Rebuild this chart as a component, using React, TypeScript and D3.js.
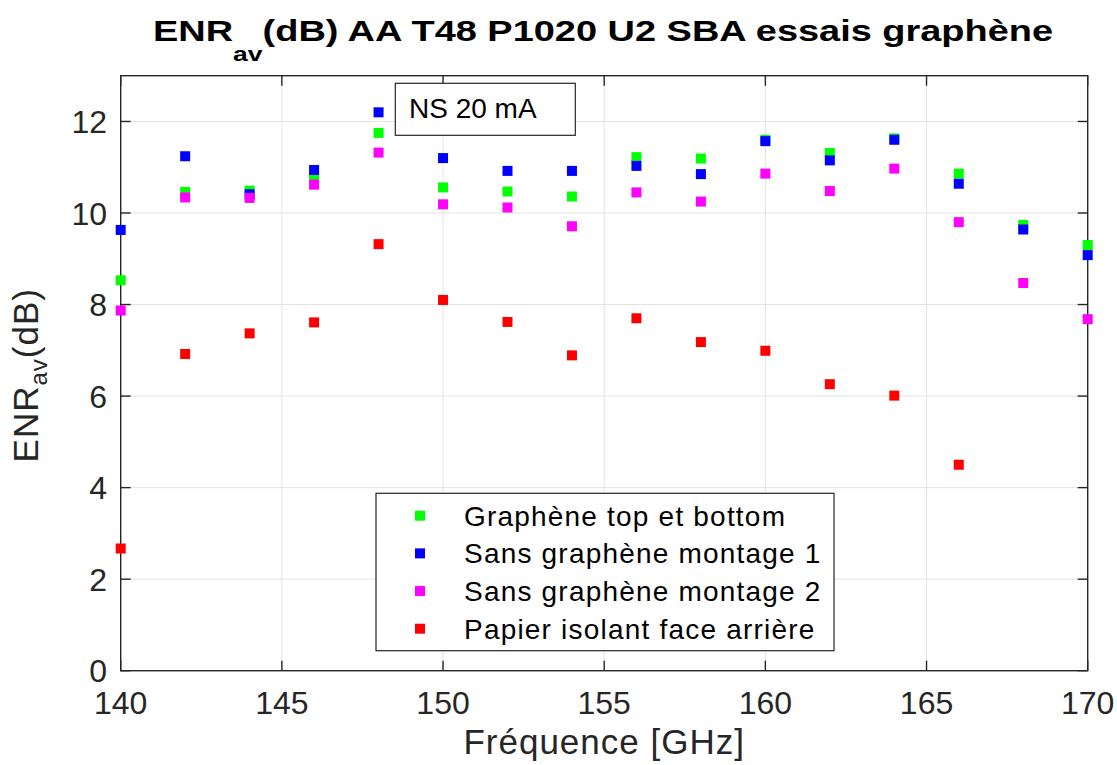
import React from "react";
import * as d3 from "d3";

const freqs = [140, 142, 144, 146, 148, 150, 152, 154, 156, 158, 160, 162, 164, 166, 168, 170];
const grapheneTopBottom = [8.53, 10.46, 10.49, 10.78, 11.75, 10.56, 10.47, 10.36, 11.22, 11.19, 11.6, 11.31, 11.63, 10.86, 9.74, 9.30];
const sansGrapheneM1 = [9.63, 11.24, 10.41, 10.94, 12.2, 11.2, 10.92, 10.92, 11.03, 10.85, 11.57, 11.15, 11.6, 10.64, 9.64, 9.08];
const sansGrapheneM2 = [7.87, 10.34, 10.33, 10.62, 11.32, 10.19, 10.12, 9.71, 10.45, 10.25, 10.86, 10.48, 10.97, 9.80, 8.47, 7.68];
const papierIsolant = [2.67, 6.92, 7.37, 7.61, 9.32, 8.10, 7.62, 6.89, 7.70, 7.18, 6.99, 6.26, 6.01, 4.50];

const seriesNames = [
  "Graphène top et bottom",
  "Sans graphène montage 1",
  "Sans graphène montage 2",
  "Papier isolant face arrière",
];
const seriesColors = ["#00ff00", "#0000ff", "#ff00ff", "#ff0000"];
const seriesValues = [grapheneTopBottom, sansGrapheneM1, sansGrapheneM2, papierIsolant];

const xTicks = [140, 145, 150, 155, 160, 165, 170];
const yTicks = [0, 2, 4, 6, 8, 10, 12];

const FONT = "'Liberation Sans', Arial, Helvetica, sans-serif";

export default function App() {
  const W = 1117, H = 765;
  const left = 120.7, right = 1087.7, top = 75.7, bottom = 670.7;
  const x = d3.scaleLinear().domain([140, 170]).range([left, right]);
  const y = d3.scaleLinear().domain([0, 13]).range([bottom, top]);
  const ms = 10;
  const axisColor = "#262626";
  const tickLen = 10;

  const legX = 376, legY = 493.3, legW = 458, legH = 157.4;
  const rowH = 37.67;

  return (
    <svg width={W} height={H} style={{ position: "absolute", left: 0, top: 0, background: "#fff" }} fontFamily={FONT}>
      <rect x={0} y={0} width={W} height={H} fill="#fff" />
      {/* grid */}
      {xTicks.map((t) => (
        <line key={"gx" + t} x1={x(t)} x2={x(t)} y1={top} y2={bottom} stroke="#e3e3e3" strokeWidth={1} />
      ))}
      {yTicks.map((t) => (
        <line key={"gy" + t} x1={left} x2={right} y1={y(t)} y2={y(t)} stroke="#e3e3e3" strokeWidth={1} />
      ))}
      {/* axes box */}
      <rect x={left} y={top} width={right - left} height={bottom - top} fill="none" stroke={axisColor} strokeWidth={1.4} />
      {xTicks.map((t) => (
        <g key={"tx" + t}>
          <line x1={x(t)} x2={x(t)} y1={bottom} y2={bottom - tickLen} stroke={axisColor} strokeWidth={1.4} />
          <line x1={x(t)} x2={x(t)} y1={top} y2={top + tickLen} stroke={axisColor} strokeWidth={1.4} />
          <text x={x(t)} y={714} textAnchor="middle" fontSize={32} fill={axisColor}>{t}</text>
        </g>
      ))}
      {yTicks.map((t) => (
        <g key={"ty" + t}>
          <line x1={left} x2={left + tickLen} y1={y(t)} y2={y(t)} stroke={axisColor} strokeWidth={1.4} />
          <line x1={right} x2={right - tickLen} y1={y(t)} y2={y(t)} stroke={axisColor} strokeWidth={1.4} />
          <text x={107} y={y(t) + 11.5} textAnchor="end" fontSize={32} fill={axisColor}>{t}</text>
        </g>
      ))}
      {/* data */}
      {seriesValues.map((vals, si) => (
        <g key={"s" + si}>
          {vals.map((v, i) => (
            <rect key={i} x={x(freqs[i]) - ms / 2} y={y(v) - ms / 2} width={ms} height={ms} fill={seriesColors[si]} />
          ))}
        </g>
      ))}
      {/* NS box */}
      <rect x={395.3} y={83.3} width={180} height={52} fill="#fff" stroke={axisColor} strokeWidth={1.2} />
      <text x={409} y={117.7} fontSize={28} fill="#000">NS 20 mA</text>
      {/* legend */}
      <rect x={legX} y={legY} width={legW} height={legH} fill="#fff" stroke={axisColor} strokeWidth={1.2} />
      {seriesNames.map((n, i) => {
        const cy = 515.7 + i * rowH;
        return (
          <g key={"l" + i}>
            <rect x={420 - ms / 2} y={cy - ms / 2} width={ms} height={ms} fill={seriesColors[i]} />
            <text x={464} y={cy + 10} fontSize={28} letterSpacing={1.2} fill="#000">{n}</text>
          </g>
        );
      })}
      {/* x label */}
      <text x={(left + right) / 2} y={754} textAnchor="middle" fontSize={35} letterSpacing={1} fill={axisColor}>Fréquence [GHz]</text>
      {/* y label */}
      <text transform={`translate(38.3, ${(top + bottom) / 2 + 2}) rotate(-90)`} textAnchor="middle" fontSize={35} letterSpacing={1} fill={axisColor}>
        ENR<tspan fontSize={24} dy={9}>av</tspan><tspan dy={-9}>(dB)</tspan>
      </text>
      {/* title */}
      <g transform="translate(603, 40.7) scale(1.265, 1)">
        <text x={0} y={0} textAnchor="middle" fontSize={30} fontWeight="bold" fill="#000">
          ENR<tspan fontSize={21} dy={20}>av</tspan><tspan dy={-20}>(dB) AA T48 P1020 U2 SBA essais graphène</tspan>
        </text>
      </g>
    </svg>
  );
}
